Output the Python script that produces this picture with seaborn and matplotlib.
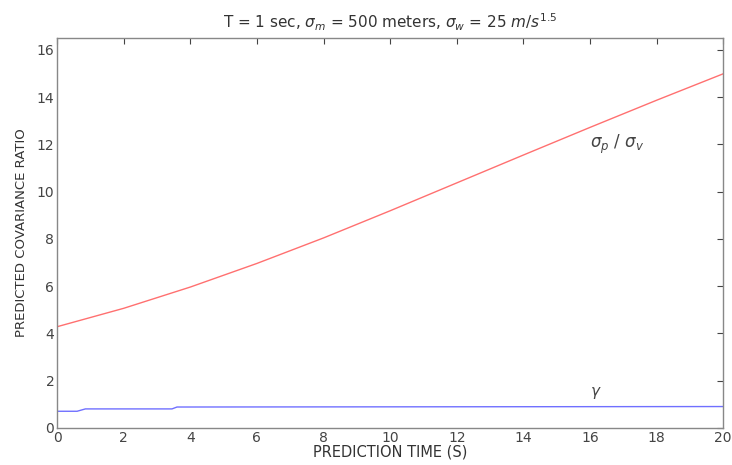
import matplotlib
matplotlib.use("Agg")
import matplotlib.pyplot as plt
import pandas as pd
import seaborn as sns

# ── Values ────────────────────────────────────────────────────────────────
time_s = [0, 2, 4, 6, 8, 10, 12, 14, 16, 18, 20]
ratio_sigma = [4.28, 5.06, 5.96, 6.96, 8.04, 9.19, 10.37, 11.55, 12.72, 13.87, 14.99]

gamma_time = [0, 0.6, 0.85, 3.45, 3.6, 20]
gamma_vals = [0.7, 0.7, 0.8, 0.8, 0.88, 0.9]

x_ticks = [0, 2, 4, 6, 8, 10, 12, 14, 16, 18, 20]
y_ticks = [0, 2, 4, 6, 8, 10, 12, 14, 16]

sns.set_style("white")
plt.rcParams["font.family"] = ["DejaVu Sans"]

ratio_df = pd.DataFrame({"t": time_s, "r": ratio_sigma})
gamma_df = pd.DataFrame({"t": gamma_time, "g": gamma_vals})

fig, ax = plt.subplots(figsize=(7.32, 4.65), dpi=100)
sns.lineplot(data=ratio_df, x="t", y="r", color="#ff7070", linewidth=1.0, ax=ax)
sns.lineplot(data=gamma_df, x="t", y="g", color="#7070ff", linewidth=1.0, ax=ax)

ax.set_xlim(0, 20)
ax.set_ylim(0, 16.5)
ax.set_xticks(x_ticks)
ax.set_yticks(y_ticks)
ax.tick_params(direction="in", top=True, right=True, length=4, pad=2,
               labelsize=10, colors="#444444")
for s in ax.spines.values():
    s.set_color("#888888")
    s.set_linewidth(1.0)

ax.set_xlabel("PREDICTION TIME (S)", fontsize=10.5, color="#333333", labelpad=0)
ax.set_ylabel("PREDICTED COVARIANCE RATIO", fontsize=9.5, color="#333333", labelpad=6)
ax.set_title(r"T = 1 sec, $\sigma_m$ = 500 meters, $\sigma_w$ = 25 $m/s^{1.5}$",
             fontsize=11, color="#333333", pad=7)

ax.text(16.0, 12.0, r"$\sigma_p$ / $\sigma_v$", fontsize=12, color="#444444", va="center")
ax.text(16.0, 1.35, r"$\gamma$", fontsize=11, color="#444444")

fig.subplots_adjust(left=0.078, right=0.988, bottom=0.08, top=0.918)
fig.savefig("out.png", dpi=100)
plt.close(fig)
